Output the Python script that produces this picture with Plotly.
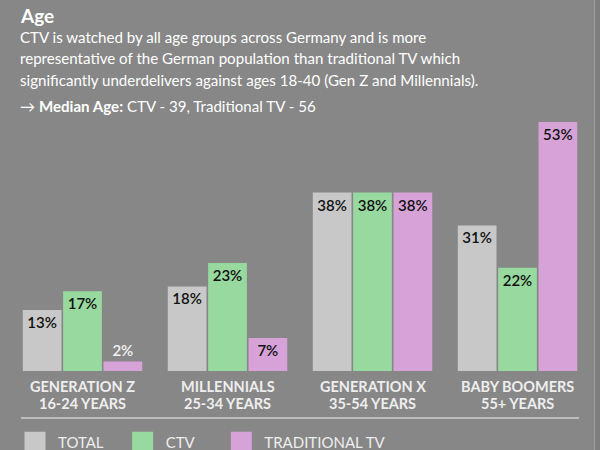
import plotly.graph_objects as go

cat_names = ["GENERATION Z", "MILLENNIALS", "GENERATION X", "BABY BOOMERS"]
age_ranges = ["16-24 YEARS", "25-34 YEARS", "35-54 YEARS", "55+ YEARS"]
total = [13, 18, 38, 31]
ctv = [17, 23, 38, 22]
trad_tv = [2, 7, 38, 53]
series_names = ["TOTAL", "CTV", "TRADITIONAL TV"]
legend_pad = [3, 5, 0]
colors = ["#c8c8c8", "#98d9a0", "#d6a2d8"]

title = "Age"
subtitle_lines = [
    "CTV is watched by all age groups across Germany and is more",
    "representative of the German population than traditional TV which",
    "significantly underdelivers against ages 18-40 (Gen Z and Millennials).",
    "→ <b>Median Age:</b> CTV - 39, Traditional TV - 56",
]

BG = "#878787"
FONT = "Lato"
W, H = 600, 450
ML, MR, MT, MB = 10, 10, 100, 79

fig = go.Figure()
for name, vals, col in zip(series_names, [total, ctv, trad_tv], colors):
    fig.add_trace(go.Bar(
        x=cat_names, y=vals, name=name, marker=dict(color=col, line=dict(width=0)),
        text=[f"{v}%" for v in vals], textposition="auto", insidetextanchor="end",
        textangle=0,
        insidetextfont=dict(family=FONT, size=15, color="#111111", weight=600),
        outsidetextfont=dict(family=FONT, size=15, color="#f2f2f2", weight=600),
        showlegend=False, cliponaxis=False,
    ))
# legend entries (no data drawn)
for name, col, pad in zip(series_names, colors, legend_pad):
    fig.add_trace(go.Scatter(
        x=[None], y=[None], mode="markers", name=name + "\u00a0" * pad,
        marker=dict(symbol="square", size=16, color=col, line=dict(color=col, width=5)),
    ))

def px_x(px):
    return (px - ML) / (W - ML - MR)

def px_y(py):
    return (H - MB - py) / (H - MT - MB)

ann = [dict(text=f"<b>{title}</b>", x=px_x(18), y=px_y(15), xref="paper", yref="paper",
            xanchor="left", yanchor="middle", showarrow=False,
            font=dict(family=FONT, size=19, color="#ffffff"))]
for line, ypx in zip(subtitle_lines, [37, 58.5, 80, 106]):
    ann.append(dict(text=line, x=px_x(18), y=px_y(ypx), xref="paper", yref="paper",
                    xanchor="left", yanchor="middle", showarrow=False,
                    font=dict(family=FONT, size=15.1, color="#ffffff")))
# category labels (two tightly spaced lines)
for name, ages in zip(cat_names, age_ranges):
    for txt, ypx in ((name, 386), (ages, 403.5)):
        ann.append(dict(text=txt, x=name, xref="x", y=px_y(ypx), yref="paper",
                        xanchor="center", yanchor="middle", showarrow=False, borderpad=0,
                        font=dict(family=FONT, size=14.5, color="#eeeeee", weight="bold")))

fig.update_layout(
    width=W, height=H, margin=dict(l=ML, r=MR, t=MT, b=MB, autoexpand=False),
    paper_bgcolor=BG, plot_bgcolor=BG,
    barmode="group", bargap=0.165, bargroupgap=0.04,
    font=dict(family=FONT, color="#eeeeee"),
    xaxis=dict(showgrid=False, zeroline=False, showline=False, ticks="", automargin=False,
               showticklabels=False),
    yaxis=dict(range=[0, 57.7], visible=False, showgrid=False, automargin=False),
    legend=dict(orientation="h", xref="container", yref="container",
                x=12 / W, y=(H - 426) / H, xanchor="left", yanchor="top",
                itemwidth=36,
                font=dict(family=FONT, size=15, color="#eeeeee"),
                bgcolor="rgba(0,0,0,0)", itemclick=False),
    annotations=ann,
    shapes=[
        dict(type="line", xref="paper", yref="paper", x0=px_x(21), x1=px_x(579),
             y0=px_y(418), y1=px_y(418), line=dict(color="#bdbdbd", width=2)),
        dict(type="rect", xref="paper", yref="paper", x0=px_x(595.5), x1=px_x(600),
             y0=px_y(450), y1=px_y(0), line=dict(width=0), fillcolor="#7d7d7d"),
        dict(type="line", xref="paper", yref="paper", x0=px_x(594.5), x1=px_x(594.5),
             y0=px_y(450), y1=px_y(0), line=dict(color="#9a9a9a", width=1)),
    ],
)

fig.write_html("out.html")
